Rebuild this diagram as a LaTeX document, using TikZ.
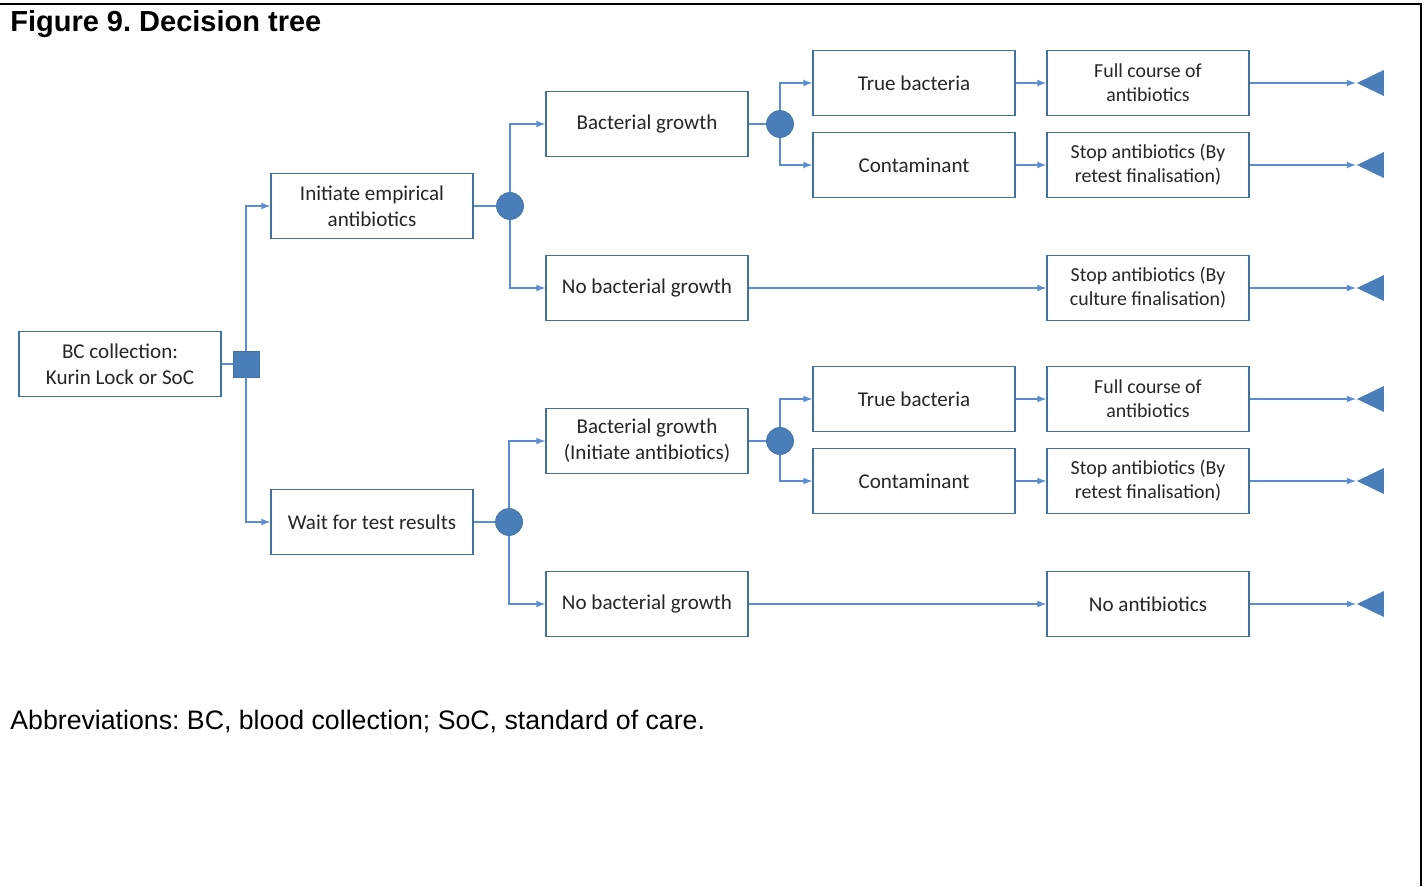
\documentclass[tikz,border=0pt]{standalone}
\usepackage{fontspec}
\setmainfont{Carlito}
\newfontfamily\arialfont{Liberation Sans}
\usepackage{tikz}
\usetikzlibrary{shapes.geometric}
\frenchspacing

\definecolor{boxblue}{RGB}{65,113,156}
\definecolor{lineblue}{RGB}{91,141,210}
\definecolor{nodeblue}{RGB}{74,126,187}
\definecolor{textgray}{RGB}{38,38,38}

\tikzset{
    box/.style={draw=boxblue, line width=0.7pt, minimum width=4.04cm, minimum height=1.3cm,
        align=center, inner sep=1pt, text=textgray, font=\fontsize{12}{14.7}\selectfont},
    outcome/.style={box, font=\fontsize{11.3}{13.6}\selectfont},
    chance/.style={draw=boxblue, fill=nodeblue, circle, minimum size=0.54cm, inner sep=0pt},
    decision/.style={draw=boxblue, fill=nodeblue, minimum size=0.52cm, inner sep=0pt},
    terminal/.style={fill=nodeblue, isosceles triangle, isosceles triangle stretches,
        shape border rotate=180, minimum width=0.52cm, minimum height=0.54cm, inner sep=0pt},
    link/.style={draw=lineblue, line width=0.8pt},
    arr/.style={link, -latex},
}

\begin{document}
\begin{tikzpicture}[x=0.02cm, y=-0.02cm]
    \useasboundingbox (0,0) rectangle (1427,886);
    \draw[line width=1.2pt] (0,4) -- (1421,4) -- (1421,886);

    \node[anchor=west, inner sep=0pt, font=\arialfont\bfseries\fontsize{16.5}{20}\selectfont] (title) at (10,24) {Figure 9. Decision tree};
    \node[anchor=west, inner sep=0pt, font=\arialfont\fontsize{15.2}{18}\selectfont] (abbr) at (10,722) {Abbreviations: BC, blood collection; SoC, standard of care.};

    % root
    \node[box] (bc) at (120,364) {BC collection:\\Kurin Lock or SoC};
    \node[decision] (root) at (246,364) {};

    % first level
    \node[box] (init) at (372,206) {Initiate empirical\\antibiotics};
    \node[box] (wait) at (372,522) {Wait for test results};
    \node[chance] (c1) at (510,206) {};
    \node[chance] (c2) at (509,522) {};

    % second level
    \node[box] (bg1) at (647,124) {Bacterial growth};
    \node[box] (nbg1) at (647,288) {No bacterial growth};
    \node[box] (bg2) at (647,441) {Bacterial growth\\(Initiate antibiotics)};
    \node[box] (nbg2) at (647,604) {No bacterial growth};
    \node[chance] (c3) at (780,124) {};
    \node[chance] (c4) at (780,441) {};

    % third level
    \node[box] (tb1) at (914,83) {True bacteria};
    \node[box] (ct1) at (914,165) {Contaminant};
    \node[box] (tb2) at (914,399) {True bacteria};
    \node[box] (ct2) at (914,481) {Contaminant};

    % outcomes
    \node[outcome] (fc1) at (1148,83) {Full course of\\antibiotics};
    \node[outcome] (sr1) at (1148,165) {Stop antibiotics (By\\retest finalisation)};
    \node[outcome] (sc1) at (1148,288) {Stop antibiotics (By\\culture finalisation)};
    \node[outcome] (fc2) at (1148,399) {Full course of\\antibiotics};
    \node[outcome] (sr2) at (1148,481) {Stop antibiotics (By\\retest finalisation)};
    \node[box] (na2) at (1148,604) {No antibiotics};

    \node[terminal, anchor=apex] (t1) at (1356,83) {};
    \node[terminal, anchor=apex] (t2) at (1356,165) {};
    \node[terminal, anchor=apex] (t3) at (1356,288) {};
    \node[terminal, anchor=apex] (t4) at (1356,399) {};
    \node[terminal, anchor=apex] (t5) at (1356,481) {};
    \node[terminal, anchor=apex] (t6) at (1356,604) {};

    \draw[link] (bc) -- (root);
    \draw[arr] (root) |- (init);
    \draw[arr] (root) |- (wait);

    \draw[link] (init) -- (c1);
    \draw[arr] (c1) |- (bg1);
    \draw[arr] (c1) |- (nbg1);
    \draw[link] (wait) -- (c2);
    \draw[arr] (c2) |- (bg2);
    \draw[arr] (c2) |- (nbg2);

    \draw[link] (bg1) -- (c3);
    \draw[arr] (c3) |- (tb1);
    \draw[arr] (c3) |- (ct1);
    \draw[link] (bg2) -- (c4);
    \draw[arr] (c4) |- (tb2);
    \draw[arr] (c4) |- (ct2);

    \draw[arr] (tb1) -- (fc1);
    \draw[arr] (ct1) -- (sr1);
    \draw[arr] (nbg1) -- (sc1);
    \draw[arr] (tb2) -- (fc2);
    \draw[arr] (ct2) -- (sr2);
    \draw[arr] (nbg2) -- (na2);

    \draw[arr] (fc1) -- (t1);
    \draw[arr] (sr1) -- (t2);
    \draw[arr] (sc1) -- (t3);
    \draw[arr] (fc2) -- (t4);
    \draw[arr] (sr2) -- (t5);
    \draw[arr] (na2) -- (t6);
\end{tikzpicture}
\end{document}
